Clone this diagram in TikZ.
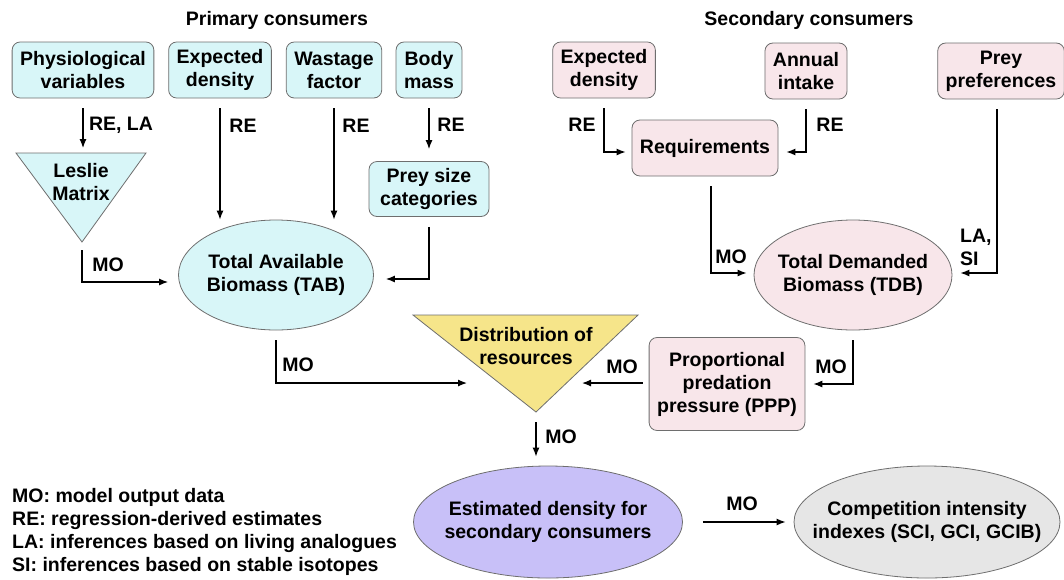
\documentclass[tikz,border=0pt]{standalone}
\usepackage{fontspec}
\setmainfont{Liberation Sans}
\usetikzlibrary{arrows.meta,positioning,shapes.geometric}
\definecolor{cyanfill}{RGB}{216,246,248}
\definecolor{pinkfill}{RGB}{248,230,234}
\definecolor{yellowfill}{RGB}{246,229,138}
\definecolor{purplefill}{RGB}{200,192,248}
\definecolor{grayfill}{RGB}{230,230,230}
\definecolor{edgegray}{RGB}{110,110,110}

\begin{document}
\begin{tikzpicture}[x=1pt, y=-1pt, font=\fontsize{19.5}{23}\selectfont\bfseries,
  box/.style={draw=edgegray, line width=0.8pt, rounded corners=8pt, align=center, inner xsep=8pt, minimum height=56pt},
  ell/.style={draw=edgegray, line width=0.8pt, ellipse, align=center, inner xsep=-25pt, inner ysep=-5pt},
  tri/.style={draw=edgegray, line width=0.8pt},
  lbl/.style={inner sep=0pt, align=left},
  arr/.style={-{Latex[length=9pt,width=7pt]}, line width=1.2pt, shorten <=10pt}]
\useasboundingbox (0,0) rectangle (1064,579);

% primary consumers
\node[lbl] (head1) at (277,20) {Primary consumers};
\node[box, fill=cyanfill] (phys) at (83,70) {Physiological\\variables};
\node[box, fill=cyanfill] (dens1) at (220,70) {Expected\\density};
\node[box, fill=cyanfill] (waste) at (334,70) {Wastage\\factor};
\node[box, fill=cyanfill] (body) at (429,70) {Body\\mass};
\node[box, fill=cyanfill, minimum width=120pt, minimum height=55pt] (prey) at (429,189) {Prey size\\categories};
\draw[tri, fill=cyanfill] (16,153) -- (82,153) coordinate (les-top) -- (146,153) -- (82,242) coordinate (les-tip) -- cycle;
\node[lbl, align=center] (les) at (81,182) {Leslie\\Matrix};
\node[ell, fill=cyanfill, minimum width=195pt, minimum height=110pt] (tab) at (276,275) {Total Available\\Biomass (TAB)};

% secondary consumers
\node[lbl] (head2) at (809,20) {Secondary consumers};
\node[box, fill=pinkfill] (dens2) at (604,70) {Expected\\density};
\node[box, fill=pinkfill] (intake) at (806,71) {Annual\\intake};
\node[box, fill=pinkfill, minimum width=122pt] (pref) at (1001,71) {Prey\\preferences};
\node[box, fill=pinkfill] (req) at (705,148) {Requirements};
\node[ell, fill=pinkfill, minimum width=198pt, minimum height=110pt] (tdb) at (853,275) {Total Demanded\\Biomass (TDB)};
\node[box, fill=pinkfill, minimum height=93pt] (ppp) at (727,384) {Proportional\\predation\\pressure (PPP)};

% distribution and outputs
\draw[tri, fill=yellowfill] (413,315) -- (638,315) -- (536,412) coordinate (dist-tip) -- cycle;
\node[lbl, align=center] (dist) at (526,346) {Distribution of\\resources};
\coordinate (dist-in) at (528,383);
\node[ell, fill=purplefill, minimum width=269pt, minimum height=112pt] (est) at (548,522) {Estimated density for\\secondary consumers};
\node[ell, fill=grayfill, minimum width=266pt, minimum height=112pt] (comp) at (927,522) {Competition intensity\\indexes (SCI, GCI, GCIB)};

% connectors
\draw[arr, shorten >=5pt] (phys.south) -- (phys.south |- les-top);
\draw[arr] (dens1.south) -- (dens1.south |- tab.north);
\draw[arr] (waste.south) -- (waste.south |- tab.north);
\draw[arr, shorten >=12pt] (body.south) -- (prey.north);
\draw[arr, shorten >=12pt] (prey.south) |- ([yshift=-4pt]tab.east);
\draw[arr, shorten <=8pt, shorten >=10pt] (les-tip) |- ([yshift=-7pt]tab.west);
\draw[arr, shorten >=6pt] (dens2.south) |- ([yshift=-4pt]req.west);
\draw[arr, shorten >=8pt] (intake.south) |- ([yshift=-4pt]req.east);
\draw[arr, shorten >=7pt] ([xshift=6pt]req.south) |- ([yshift=2pt]tdb.west);
\draw[arr, shorten >=8pt] ([xshift=-4pt]pref.south) |- ([yshift=2pt]tdb.east);
\draw[arr, shorten >=61pt] (tab.south) |- (dist-in);
\draw[arr, shorten <=6pt, shorten >=54pt] (ppp.west |- dist-in) -- (dist-in);
\draw[arr, shorten >=8pt] (tdb.south) |- (ppp.east);
\draw[arr, shorten >=9pt] (dist-tip) -- (dist-tip |- est.north);
\draw[arr, shorten <=20pt, shorten >=8pt] (est.east) -- (comp.west);

% labels
\node[lbl] (l1) at (121,125) {RE, LA};
\node[lbl] (l2) at (243,126) {RE};
\node[lbl] (l3) at (356,126) {RE};
\node[lbl] (l4) at (451,125) {RE};
\node[lbl] (l5) at (108,265) {MO};
\node[lbl] (l6) at (582,125) {RE};
\node[lbl] (l7) at (830,125) {RE};
\node[lbl] (l8) at (731,257) {MO};
\node[lbl, anchor=west] (l9) at (960,247) {LA,\\SI};
\node[lbl] (l10) at (298,365) {MO};
\node[lbl] (l11) at (622,367) {MO};
\node[lbl] (l12) at (831,367) {MO};
\node[lbl] (l13) at (561,437) {MO};
\node[lbl] (l14) at (742,504) {MO};

% legend
\node[lbl, anchor=west] (legend) at (12,532) {MO: model output data\\RE: regression-derived estimates\\LA: inferences based on living analogues\\SI: inferences based on stable isotopes};
\end{tikzpicture}
\end{document}
